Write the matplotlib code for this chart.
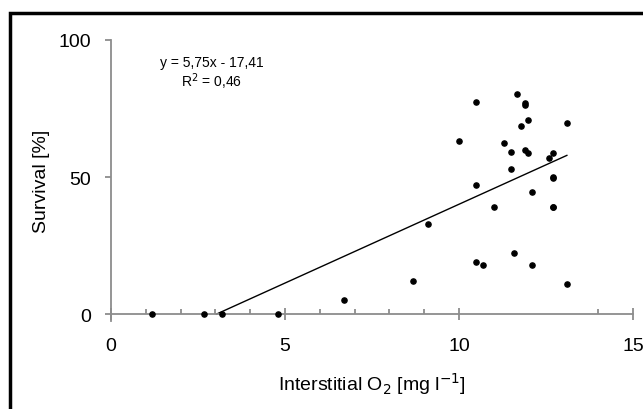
import matplotlib as mpl
import matplotlib.pyplot as plt
from matplotlib.patches import Rectangle

import numpy as np

mpl.rcParams.update({'font.family': 'Liberation Sans', 'font.size': 14})

# interstitial O2 [mg/l] and survival [%]
o2 = [1.18, 2.67, 3.19, 4.80, 6.70, 8.69, 9.10, 9.99, 10.50, 10.50, 10.50, 10.70,
      11.00, 11.29, 11.49, 11.49, 11.59, 11.67, 11.79, 11.89, 11.90, 11.90, 11.99,
      11.99, 12.09, 12.09, 12.60, 12.69, 12.69, 12.69, 12.69, 12.69, 13.10, 13.10]
survival = [0.0, 0.0, 0.0, 0.0, 5.1, 12.0, 32.8, 63.0, 77.5, 47.2, 19.1, 18.1,
            39.2, 62.5, 59.3, 53.0, 22.3, 80.4, 68.6, 59.9, 77.0, 76.3, 70.7,
            58.8, 44.4, 18.0, 57.1, 58.8, 50.1, 49.6, 39.2, 39.2, 69.9, 11.1]

slope, intercept = 5.75, -17.41
r2 = 0.46

x_major = [0, 5, 10, 15]
x_minor = [1, 2, 3, 4, 6, 7, 8, 9, 14]  # the original skips 11-13
y_major = [0, 50, 100]

fig = plt.figure(figsize=(6.43, 4.10), dpi=100, facecolor='w')
ax = fig.add_axes([111 / 643, 1 - 322 / 410, 522 / 643, 281 / 410])

ax.scatter(o2, survival, s=14, color='k', zorder=3, clip_on=False)

x0 = -intercept / slope
x1 = max(o2)
ax.plot([x0, x1], [slope * x0 + intercept, slope * x1 + intercept], color='k', lw=1)

ax.text(2.9, 92, 'y = 5,75x - 17,41', fontsize=10, ha='center', va='center')
ax.text(2.9, 85, 'R$^2$ = 0,46', fontsize=10, ha='center', va='center')

ax.set_xlim(0, 15)
ax.set_ylim(-2.5, 100)
ax.spines['top'].set_visible(False)
ax.spines['right'].set_visible(False)
ax.spines['bottom'].set_position(('data', 0))
for s in ('left', 'bottom'):
    ax.spines[s].set_color('#8c8c8c')
    ax.spines[s].set_linewidth(1.3)

ax.set_xticks(x_major)
ax.set_xticks(x_minor, minor=True)
ax.set_yticks(y_major)
ax.tick_params(axis='x', which='major', direction='inout', length=8.5, width=1.3,
               color='#8c8c8c', pad=12)
ax.tick_params(axis='x', which='minor', direction='in', length=3.5, width=1.3, color='#8c8c8c')
ax.tick_params(axis='y', which='major', direction='out', length=4.3, width=1.3,
               color='#8c8c8c', pad=10)

ax.set_xlabel('Interstitial O$_2$ [mg l$^{-1}$]', fontsize=14, labelpad=12)
ax.set_ylabel('Survival [%]', fontsize=14, labelpad=6)

fig.patches.append(Rectangle((10 / 643, -0.1), 2, 1 - 14 / 410 + 0.1,
                             transform=fig.transFigure, fill=False, ec='k', lw=2.5))

fig.savefig('out.png', dpi=100, transparent=False)
